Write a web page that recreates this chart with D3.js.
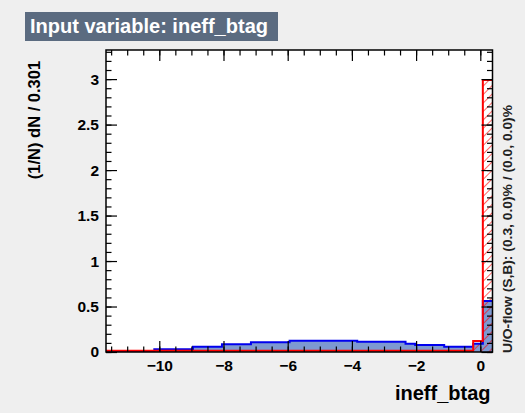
<!DOCTYPE html>
<html>
<head>
<meta charset="utf-8">
<script src="https://cdn.jsdelivr.net/npm/d3@7"></script>
<style>
  html, body { margin: 0; padding: 0; background: #efefef; }
  svg { display: block; }
</style>
</head>
<body>
<div id="chart"></div>
<script>
// Histogram binning
const xMin = -11.66, binWidth = 0.301, nBins = 40;

// Signal (blue) and background (red) normalised bin contents
const signal = [
  0, 0, 0, 0, 0,
  0.03, 0.03, 0.03, 0.03,
  0.058, 0.058, 0.058,
  0.085, 0.085, 0.085,
  0.107, 0.107, 0.107, 0.107,
  0.124, 0.124, 0.124, 0.124, 0.124, 0.124, 0.124,
  0.113, 0.113, 0.113, 0.113, 0.113,
  0.092,
  0.077, 0.077, 0.077,
  0.058, 0.058, 0.058,
  0.09,
  0.56
];
const background = [
  0.015, 0.015, 0.015, 0.015, 0.015, 0.015, 0.015, 0.015, 0.015, 0.015,
  0.015, 0.015, 0.015, 0.015, 0.015, 0.015, 0.015, 0.015, 0.015, 0.015,
  0.015, 0.015, 0.015, 0.015, 0.015, 0.015, 0.015, 0.015, 0.015, 0.015,
  0.015, 0.015, 0.015, 0.015, 0.015, 0.015, 0.015, 0.015,
  0.12,
  2.99
];

const xTicks = [-10, -8, -6, -4, -2, 0];
const yTicks = [0, 0.5, 1, 1.5, 2, 2.5, 3];

const titleText = 'Input variable: ineff_btag';
const xTitle = 'ineff_btag';
const yTitle = '(1/N) dN / 0.301';
const flowText = 'U/O-flow (S,B): (0.3, 0.0)% / (0.0, 0.0)%';

const width = 525, height = 413;
const frame = {left: 106, right: 492.5, top: 50, bottom: 352};
const font = "'Liberation Sans', Arial, sans-serif";

const svg = d3.select('#chart').append('svg')
	.attr('width', width)
	.attr('height', height);

svg.append('rect')
	.attr('width', width).attr('height', height)
	.attr('fill', '#efefef');

// hatch for background
const defs = svg.append('defs');
defs.append('pattern')
	.attr('id', 'hatch')
	.attr('patternUnits', 'userSpaceOnUse')
	.attr('width', 6).attr('height', 6)
	.attr('patternTransform', 'rotate(45)')
  .append('line')
	.attr('x1', 0).attr('y1', 0).attr('x2', 0).attr('y2', 6)
	.attr('stroke', '#ff0000')
	.attr('stroke-width', 1.2);

const x = d3.scaleLinear()
	.domain([xMin, xMin + nBins * binWidth])
	.range([frame.left, frame.right]);
const y = d3.scaleLinear()
	.domain([0, 3.32])
	.range([frame.bottom, frame.top]);

// plot area
svg.append('rect')
	.attr('x', frame.left).attr('y', frame.top)
	.attr('width', frame.right - frame.left)
	.attr('height', frame.bottom - frame.top)
	.attr('fill', '#ffffff');

// step paths
function steps(values) {
	const pts = values.map((v, i) => [xMin + i * binWidth, v]);
	pts.push([xMin + nBins * binWidth, values[values.length - 1]]);
	return pts;
}
const area = d3.area()
	.curve(d3.curveStepAfter)
	.x(d => x(d[0]))
	.y0(y(0))
	.y1(d => y(d[1]));
const outline = d3.line()
	.curve(d3.curveStepAfter)
	.x(d => x(d[0]))
	.y(d => y(d[1]));

defs.append('clipPath').attr('id', 'frameClip')
  .append('rect')
	.attr('x', frame.left).attr('y', frame.top)
	.attr('width', frame.right - frame.left)
	.attr('height', frame.bottom - frame.top);

const g = svg.append('g').attr('clip-path', 'url(#frameClip)');

// signal: filled
g.append('path')
	.attr('d', area(steps(signal)))
	.attr('fill', '#7d99d1');
// background: hatched
g.append('path')
	.attr('d', area(steps(background)))
	.attr('fill', 'url(#hatch)');
g.append('path')
	.attr('d', outline(steps(signal)))
	.attr('fill', 'none')
	.attr('stroke', '#0000ee')
	.attr('stroke-width', 2);
g.append('path')
	.attr('d', outline(steps(background)))
	.attr('fill', 'none')
	.attr('stroke', '#ff0000')
	.attr('stroke-width', 2);

// axes: ticks inside the frame on all four sides
const xMinor = d3.range(-11.5, 0.4, 0.5);
const yMinor = d3.range(0, 3.31, 0.1);

function styleAxis(sel) {
	sel.select('.domain').remove();
	sel.selectAll('.tick line').attr('stroke', '#000').attr('stroke-width', 1.2);
	sel.selectAll('.tick text')
		.attr('fill', '#000')
		.style('font-family', font)
		.style('font-weight', 'bold')
		.style('font-size', '15.5px');
}

// bottom
svg.append('g').attr('transform', `translate(0,${frame.bottom})`)
	.call(d3.axisBottom(x).tickValues(xMinor).tickSizeInner(-5.5).tickSizeOuter(0).tickFormat(''))
	.call(styleAxis);
svg.append('g').attr('transform', `translate(0,${frame.bottom})`)
	.call(d3.axisBottom(x).tickValues(xTicks).tickSizeInner(-11).tickSizeOuter(0).tickPadding(8)
		.tickFormat(d => d < 0 ? '\u2212' + Math.abs(d) : d))
	.call(styleAxis);
// top
svg.append('g').attr('transform', `translate(0,${frame.top})`)
	.call(d3.axisTop(x).tickValues(xMinor).tickSizeInner(-5.5).tickSizeOuter(0).tickFormat(''))
	.call(styleAxis);
svg.append('g').attr('transform', `translate(0,${frame.top})`)
	.call(d3.axisTop(x).tickValues(xTicks).tickSizeInner(-11).tickSizeOuter(0).tickFormat(''))
	.call(styleAxis);
// left
svg.append('g').attr('transform', `translate(${frame.left},0)`)
	.call(d3.axisLeft(y).tickValues(yMinor).tickSizeInner(-5.5).tickSizeOuter(0).tickFormat(''))
	.call(styleAxis);
svg.append('g').attr('transform', `translate(${frame.left},0)`)
	.call(d3.axisLeft(y).tickValues(yTicks).tickSizeInner(-11).tickSizeOuter(0).tickPadding(7)
		.tickFormat(d3.format('~g')))
	.call(styleAxis);
// right
svg.append('g').attr('transform', `translate(${frame.right},0)`)
	.call(d3.axisRight(y).tickValues(yMinor).tickSizeInner(-5.5).tickSizeOuter(0).tickFormat(''))
	.call(styleAxis);
svg.append('g').attr('transform', `translate(${frame.right},0)`)
	.call(d3.axisRight(y).tickValues(yTicks).tickSizeInner(-11).tickSizeOuter(0).tickFormat(''))
	.call(styleAxis);

// frame
svg.append('rect')
	.attr('x', frame.left).attr('y', frame.top)
	.attr('width', frame.right - frame.left)
	.attr('height', frame.bottom - frame.top)
	.attr('fill', 'none')
	.attr('stroke', '#000')
	.attr('stroke-width', 1.5);

// title box
svg.append('rect')
	.attr('x', 25).attr('y', 12)
	.attr('width', 253).attr('height', 29)
	.attr('fill', '#5b6b80');
svg.append('text')
	.attr('x', 30).attr('y', 33)
	.attr('textLength', 238)
	.attr('lengthAdjust', 'spacingAndGlyphs')
	.style('font-family', font)
	.style('font-weight', 'bold')
	.style('font-size', '20px')
	.attr('fill', '#ffffff')
	.text(titleText);

// axis titles
svg.append('text')
	.attr('text-anchor', 'end')
	.attr('x', frame.right - 2).attr('y', 400)
	.style('font-family', font)
	.style('font-weight', 'bold')
	.style('font-size', '20px')
	.text(xTitle);

svg.append('text')
	.attr('text-anchor', 'middle')
	.attr('transform', 'translate(40,120) rotate(-90)')
	.style('font-family', font)
	.style('font-weight', 'bold')
	.style('font-size', '16.5px')
	.text(yTitle);

// under/overflow note
svg.append('text')
	.attr('text-anchor', 'start')
	.attr('transform', `translate(511.5,${frame.bottom + 1}) rotate(-90)`)
	.attr('textLength', 248)
	.attr('lengthAdjust', 'spacingAndGlyphs')
	.style('font-family', font)
	.style('font-weight', 'bold')
	.style('font-size', '12px')
	.attr('fill', '#222')
	.text(flowText);
</script>
</body>
</html>
